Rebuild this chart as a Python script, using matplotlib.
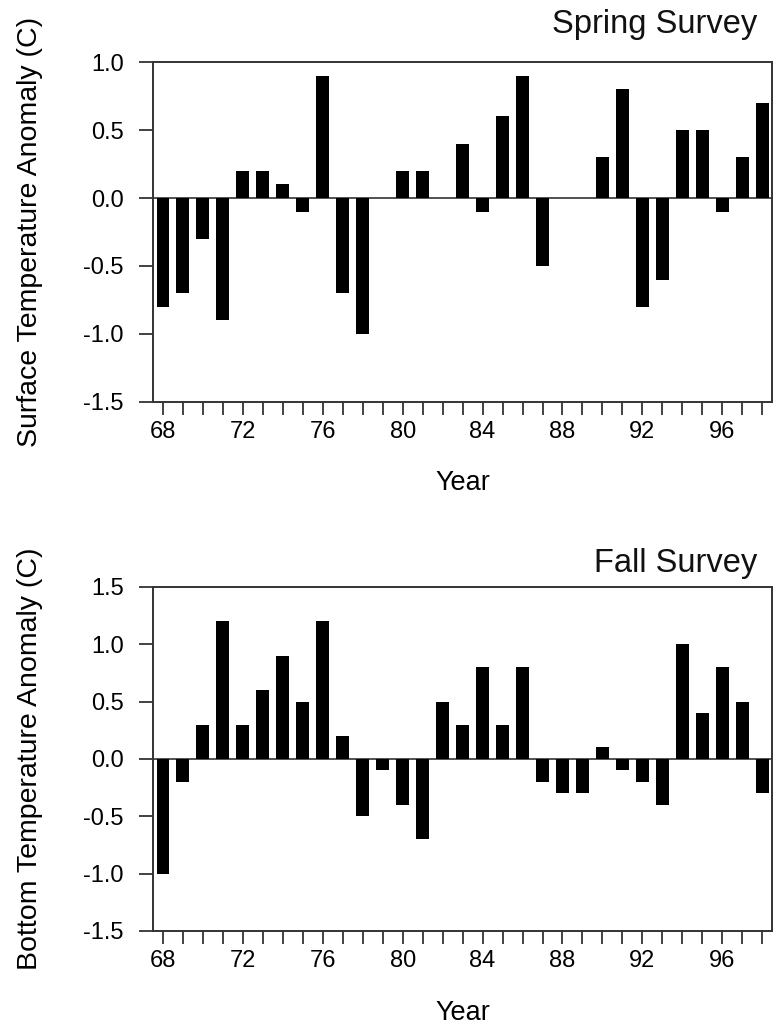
import numpy as np
import matplotlib
matplotlib.use("Agg")
import matplotlib.pyplot as plt

plt.rcParams['font.family'] = ['Liberation Sans', 'DejaVu Sans']

# Survey years (two-digit, 1968-1998)
years = list(range(68, 99))

# Spring survey surface temperature anomaly (C); nan = no survey
spring_surface = [-0.8, -0.7, -0.3, -0.9, 0.2, 0.2, 0.1, -0.1, 0.9, -0.7,
                  -1.0, np.nan, 0.2, 0.2, np.nan, 0.4, -0.1, 0.6, 0.9, -0.5,
                  np.nan, np.nan, 0.3, 0.8, -0.8, -0.6, 0.5, 0.5, -0.1, 0.3,
                  0.7]

# Fall survey bottom temperature anomaly (C)
fall_bottom = [-1.0, -0.2, 0.3, 1.2, 0.3, 0.6, 0.9, 0.5, 1.2, 0.2,
               -0.5, -0.1, -0.4, -0.7, 0.5, 0.3, 0.8, 0.3, 0.8, -0.2,
               -0.3, -0.3, 0.1, -0.1, -0.2, -0.4, 1.0, 0.4, 0.8, 0.5,
               -0.3]

major_years = [68, 72, 76, 80, 84, 88, 92, 96]

fig = plt.figure(figsize=(7.74, 10.27), dpi=100)
ax1 = fig.add_axes([0.1977, 0.6086, 0.8, 0.331])
ax2 = fig.add_axes([0.1977, 0.0935, 0.8, 0.335])

panels = [
    (ax1, spring_surface, (-1.5, 1.0), "Surface Temperature Anomaly (C)", "Spring Survey", 1.085),
    (ax2, fall_bottom, (-1.5, 1.5), "Bottom Temperature Anomaly (C)", "Fall Survey", 1.044),
]

for ax, vals, ylim, ylabel, title, title_y in panels:
    ax.bar(years, vals, width=0.65, color="black", linewidth=0)
    ax.axhline(0, color="#333333", linewidth=1.2, zorder=0)
    ax.set_xlim(67.5, 98.5)
    ax.set_ylim(*ylim)
    yt = np.arange(ylim[0], ylim[1] + 0.01, 0.5)
    ax.set_yticks(yt)
    ax.set_yticklabels([f"{v:.1f}" for v in yt])
    ax.set_xticks(years)
    ax.set_xticklabels([str(y) if y in major_years else "" for y in years])
    ax.tick_params(axis="x", direction="out", length=9, width=1.3, pad=5,
                   labelsize=17, color="#333333")
    ax.tick_params(axis="y", direction="out", length=10, width=1.3, pad=11,
                   labelsize=17, color="#333333")
    for sp in ax.spines.values():
        sp.set_color("#333333")
        sp.set_linewidth(1.4)
    ax.set_ylabel(ylabel, fontsize=20.5)
    ax.yaxis.set_label_coords(-0.177, 0.5)
    ax.set_xlabel("Year", fontsize=19.5)
    ax.xaxis.set_label_coords(0.5, -0.2)
    ax.text(0.976, title_y, title, transform=ax.transAxes, ha="right",
            va="baseline", fontsize=23.5, color="#111111")

fig.savefig("out.png", dpi=100)
